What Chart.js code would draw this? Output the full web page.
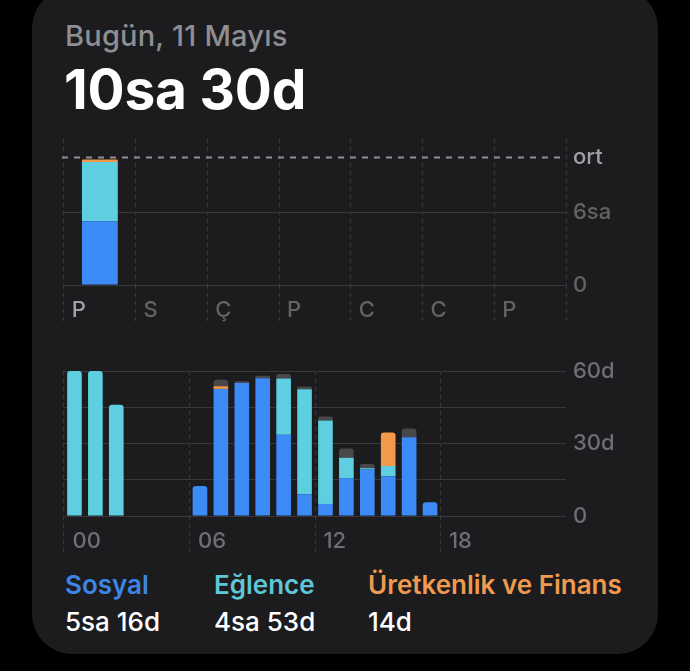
<!DOCTYPE html>
<html lang="tr">
<head>
<meta charset="utf-8">
<title>Ekran Süresi</title>
<script src="https://cdn.jsdelivr.net/npm/chart.js@4.4.1/dist/chart.umd.min.js"></script>
<style>
html, body { margin: 0; padding: 0; background: #000; }
body { width: 690px; height: 671px; position: relative; overflow: hidden; font-family: Inter, "Noto Sans", sans-serif; }
#card { position: absolute; left: 32px; top: -12px; width: 626px; height: 666px; background: #1c1c1e; border-radius: 40px; }
.txt { position: absolute; white-space: nowrap; line-height: 1; }
#date { left: 65px; top: 21px; font-size: 29px; color: #8e8e93; font-weight: 500; letter-spacing: 0.2px; }
#total { left: 64px; top: 62px; font-size: 55px; color: #fff; font-weight: 700; letter-spacing: -0.2px; }
.lg { font-size: 26px; font-weight: 600; top: 572px; }
.lv { font-size: 26px; font-weight: 500; top: 609px; color: #fff; }
canvas { position: absolute; }
</style>
</head>
<body>
<div id="card"></div>
<div class="txt" id="date">Bugün, 11 Mayıs</div>
<div class="txt" id="total">10sa 30d</div>
<canvas id="weekChart" width="564" height="200" style="left:62px; top:125px;"></canvas>
<canvas id="hourChart" width="564" height="199" style="left:62px; top:357px;"></canvas>
<div class="txt lg" style="left:65px; color:#3d86e6;">Sosyal</div>
<div class="txt lg" style="left:214px; color:#5ec6d6;">Eğlence</div>
<div class="txt lg" style="left:368px; color:#ef9a4f;">Üretkenlik ve Finans</div>
<div class="txt lv" style="left:65px;">5sa 16d</div>
<div class="txt lv" style="left:214px;">4sa 53d</div>
<div class="txt lv" style="left:368px;">14d</div>
<script>
// weekly chart (hours)
var days = ['P', 'S', 'Ç', 'P', 'C', 'C', 'P'];
var daySosyal = [5.25, null, null, null, null, null, null];
var dayEglence = [4.85, null, null, null, null, null, null];
var dayUretkenlik = [0.22, null, null, null, null, null, null];
var ortalama = 10.5;
var dayTicks = [0, 3, 6, 9, 10.5, 12];
var dayTickLabels = ['0', '', '6sa', '', 'ort', ''];

// hourly chart (minutes)
var hours = ['00', '01', '02', '03', '04', '05', '06', '07', '08', '09', '10', '11',
    '12', '13', '14', '15', '16', '17', '18', '19', '20', '21', '22', '23'];
var hourSosyal = [null, null, null, null, null, null, 12.4, 52.6, 55, 57, 33.6, 9,
    5, 15.7, 19.2, 16.4, 32.6, 5.7, null, null, null, null, null, null];
var hourEglence = [60, 60, 46, null, null, null, null, null, null, null, 23.3, 43.4,
    34.5, 8.4, 0.6, 4.3, null, null, null, null, null, null, null, null];
var hourUretkenlik = [null, null, null, null, null, null, null, 1.1, null, null, null, null,
    null, null, null, 13.9, null, null, null, null, null, null, null, null];
var hourDiger = [null, null, null, null, null, null, null, 2.7, 0.8, 1, 1.9, 1.2,
    1.7, 3.8, 1.7, null, 3.6, null, null, null, null, null, null, null];
var hourTicks = [0, 15, 30, 45, 60];
var hourTickLabels = ['0', '', '30d', '', '60d'];

var BLUE = '#3d8bf7';
var CYAN = '#5dcfe0';
var ORANGE = '#f2994a';
var GREY = '#48484a';
var GRID = '#38383a';

Chart.defaults.font.family = "Inter, 'Noto Sans', sans-serif";
Chart.defaults.font.size = 22;
Chart.defaults.font.weight = '500';

var avgLine = {
    id: 'avgLine',
    afterDatasetsDraw: function (chart) {
        var ctx = chart.ctx;
        var area = chart.chartArea;
        var y = Math.round(chart.scales.y.getPixelForValue(ortalama)) + 0.5;
        ctx.save();
        ctx.strokeStyle = '#8e8e93';
        ctx.lineWidth = 2;
        ctx.setLineDash([6, 6]);
        ctx.beginPath();
        ctx.moveTo(area.left - 2, y);
        ctx.lineTo(area.right, y);
        ctx.stroke();
        ctx.restore();
    }
};

function barSet(label, data, color, pct, radius) {
    return {
        label: label,
        data: data,
        backgroundColor: color,
        borderWidth: 0,
        borderRadius: radius,
        barPercentage: pct,
        categoryPercentage: 1
    };
}

function xAxis(labelOffset, showLine, labelColor, labelText) {
    return {
        stacked: true,
        grid: {
            offset: true,
            color: function (c) { return showLine(c.index) ? GRID : 'transparent'; },
            tickColor: function (c) { return showLine(c.index) ? GRID : 'transparent'; },
            tickLength: 38,
            tickBorderDash: [4, 4]
        },
        border: { display: false, dash: [4, 4] },
        ticks: {
            autoSkip: false,
            maxRotation: 0,
            minRotation: 0,
            align: 'start',
            labelOffset: labelOffset,
            padding: -26,
            color: labelColor,
            callback: labelText
        },
        afterFit: function (s) {
            s.height = 40;
            s.paddingLeft = 0;
            s.paddingRight = 0;
        }
    };
}

function yAxis(max, ticks, labels, labelColor, hideValue) {
    return {
        stacked: true,
        position: 'right',
        min: 0,
        max: max,
        afterBuildTicks: function (s) {
            s.ticks = ticks.map(function (v) { return { value: v }; });
        },
        grid: {
            drawTicks: false,
            color: function (c) {
                return c.tick && c.tick.value === hideValue ? 'transparent' : GRID;
            }
        },
        border: { display: false },
        ticks: {
            padding: 7,
            color: labelColor,
            callback: function (v, i) { return labels[i]; }
        },
        afterFit: function (s) {
            s.width = 60;
            s.paddingTop = 0;
            s.paddingBottom = 0;
        }
    };
}

new Chart(document.getElementById('weekChart'), {
    type: 'bar',
    data: {
        labels: days,
        datasets: [
            barSet('Sosyal', daySosyal, BLUE, 0.5, 2),
            barSet('Eğlence', dayEglence, CYAN, 0.5, 2),
            barSet('Üretkenlik ve Finans', dayUretkenlik, ORANGE, 0.5, 2)
        ]
    },
    options: {
        responsive: false,
        animation: false,
        devicePixelRatio: 1,
        layout: { padding: { left: 2, top: 14, right: 0, bottom: 0 } },
        plugins: { legend: { display: false }, tooltip: { enabled: false } },
        scales: {
            x: xAxis(-28, function () { return true; }, function (c) {
                return c.index === 0 ? '#a1a1a6' : '#636366';
            }, function (v, i) { return days[i]; }),
            y: yAxis(12, dayTicks, dayTickLabels, function (c) {
                return c.tick && c.tick.value === ortalama ? '#a1a1a6' : '#636366';
            }, ortalama)
        }
    },
    plugins: [avgLine]
});

new Chart(document.getElementById('hourChart'), {
    type: 'bar',
    data: {
        labels: hours,
        datasets: [
            barSet('Sosyal', hourSosyal, BLUE, 0.7, 3),
            barSet('Eğlence', hourEglence, CYAN, 0.7, 3),
            barSet('Üretkenlik ve Finans', hourUretkenlik, ORANGE, 0.7, 3),
            barSet('Diğer', hourDiger, GREY, 0.7, 3)
        ]
    },
    options: {
        responsive: false,
        animation: false,
        devicePixelRatio: 1,
        layout: { padding: { left: 2, top: 14, right: 0, bottom: 0 } },
        plugins: { legend: { display: false }, tooltip: { enabled: false } },
        scales: {
            // only every sixth hour gets a line and a label
            x: xAxis(-2, function (i) { return i % 6 === 0; }, '#6e6e73', function (v, i) {
                return i % 6 === 0 ? hours[i] : '';
            }),
            y: yAxis(60, hourTicks, hourTickLabels, '#6e6e73', null)
        }
    }
});
</script>
</body>
</html>
